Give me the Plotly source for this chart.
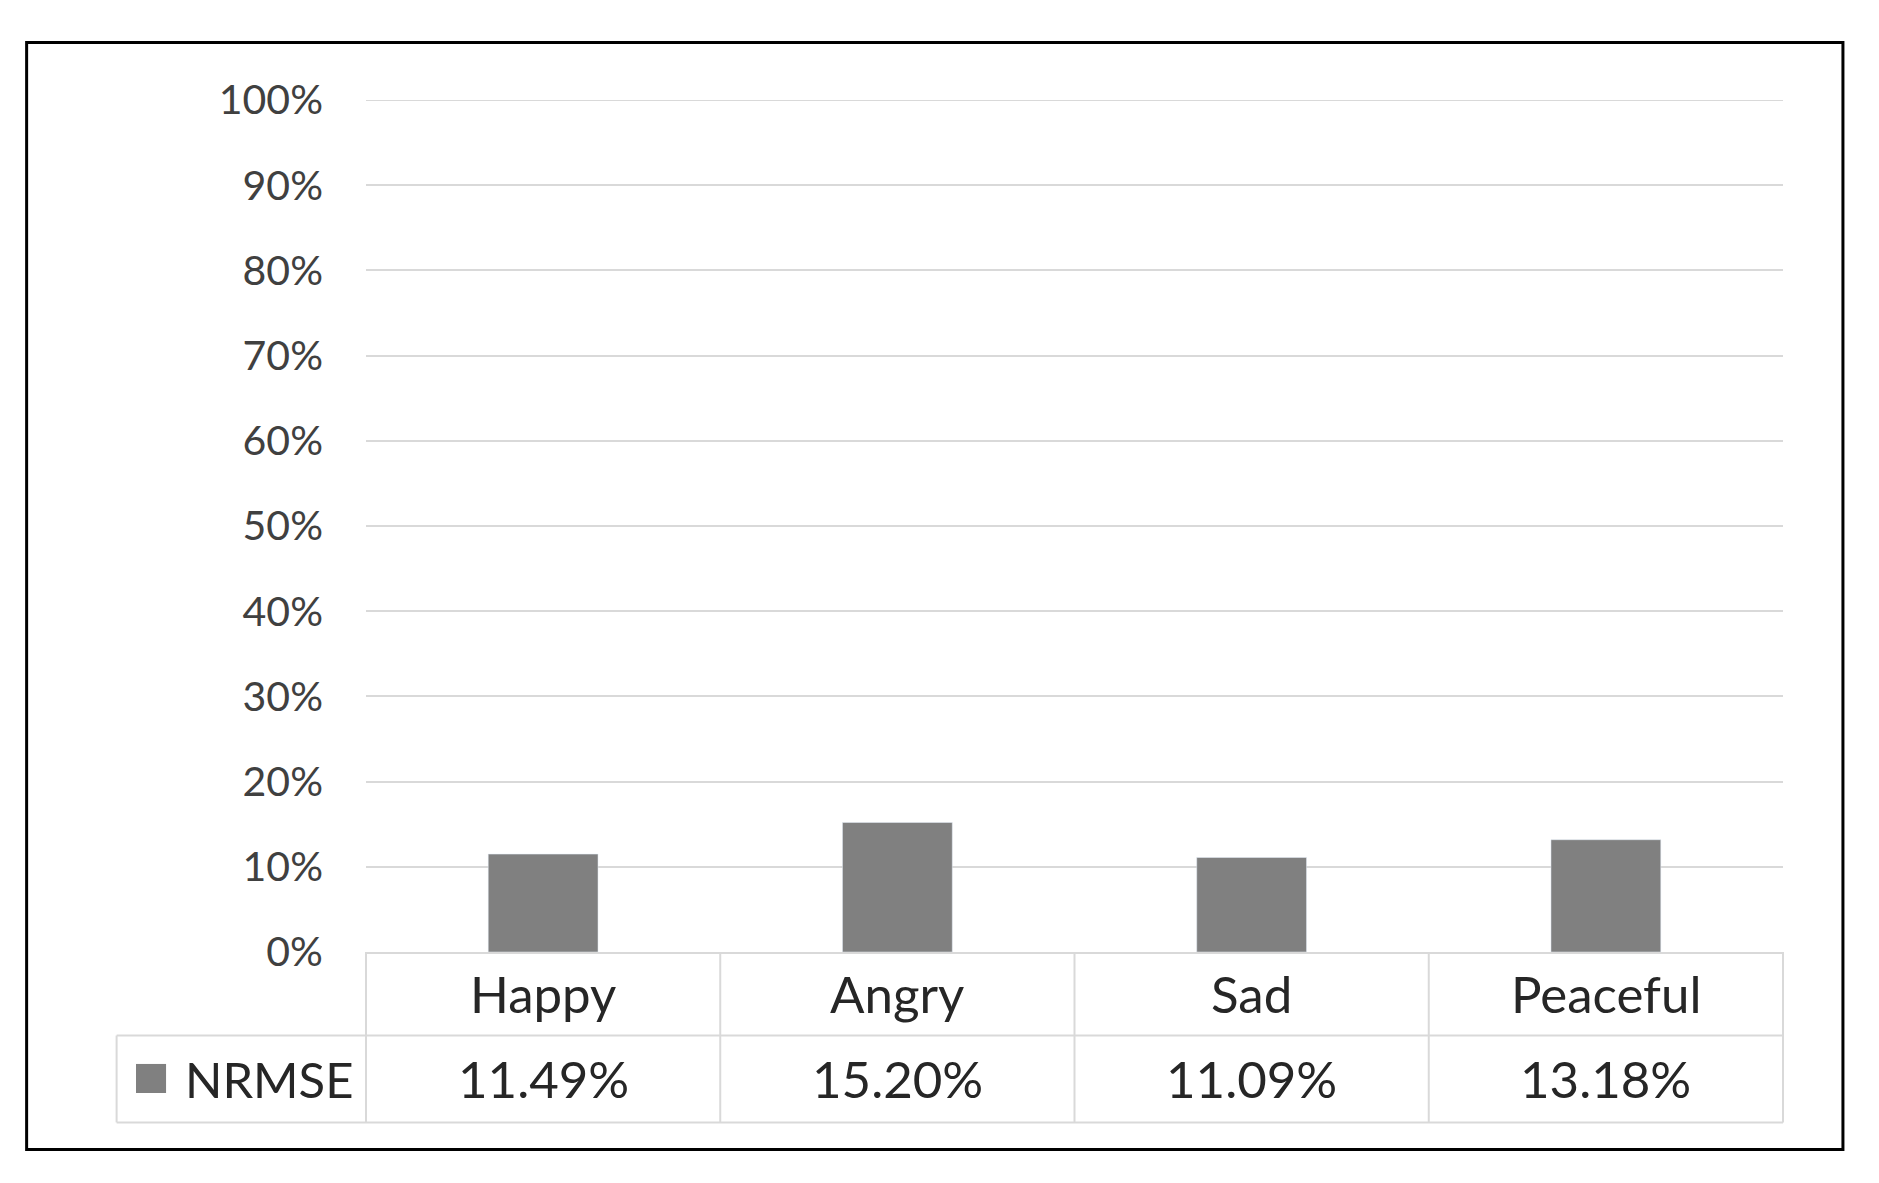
import plotly.graph_objects as go

categories = ["Happy", "Angry", "Sad", "Peaceful"]
nrmse = [0.1149, 0.1520, 0.1109, 0.1318]
series_name = "NRMSE"
y_ticks = [i / 10 for i in range(11)]

# page has an 8px body margin, so the figure origin sits at (8, 8)
W, H = 1863, 1167
ML, MR, MT, MB = 358, 88, 92, 223
FONT = "Lato"
GRID = "#d9d9d9"
BAR = "#808080"

fig = go.Figure()
fig.add_trace(go.Bar(x=categories, y=nrmse, marker_color=BAR, width=0.31,
                     showlegend=False, name=series_name))

# table rows (paper coords relative to plot area)
row1_bot = -0.098
row2_bot = -0.200
leg_left = -0.176

shapes = []
line = dict(color=GRID, width=2)
for i in range(len(categories) + 1):
    xd = i / len(categories)
    shapes.append(dict(type="line", xref="x domain", yref="paper", x0=xd, x1=xd,
                       y0=0, y1=row2_bot, line=line))
shapes.append(dict(type="line", xref="paper", yref="paper", x0=leg_left, x1=1,
                   y0=row1_bot, y1=row1_bot, line=line))
shapes.append(dict(type="line", xref="paper", yref="paper", x0=leg_left, x1=1,
                   y0=row2_bot, y1=row2_bot, line=line))
shapes.append(dict(type="line", xref="paper", yref="paper", x0=leg_left, x1=leg_left,
                   y0=row1_bot, y1=row2_bot, line=line))
# top gridline (100%)
shapes.append(dict(type="line", xref="paper", yref="y", x0=0, x1=1, y0=1, y1=1, line=line,
                   layer="below"))
# legend marker
shapes.append(dict(type="rect", xref="paper", yref="paper", x0=-0.1623, x1=-0.1411,
                   y0=-0.1655, y1=-0.1314, fillcolor=BAR, line=dict(width=0)))
# outer frame
shapes.append(dict(type="rect", xref="paper", yref="paper", x0=-0.2395, x1=1.0423,
                   y0=-0.2318, y1=1.0675, line=dict(color="black", width=3)))

annotations = []
for c, v in zip(categories, nrmse):
    annotations.append(dict(x=c, xref="x", y=row1_bot / 2, yref="paper", text=c,
                            showarrow=False, font=dict(family=FONT, size=51, color="#262626"),
                            yanchor="middle"))
    annotations.append(dict(x=c, xref="x", y=(row1_bot + row2_bot) / 2, yref="paper",
                            text=f"{v * 100:.2f}%", showarrow=False,
                            font=dict(family=FONT, size=51, color="#262626"),
                            yanchor="middle"))
annotations.append(dict(x=-0.1294, xref="paper", y=(row1_bot + row2_bot) / 2, yref="paper",
                        text=series_name, showarrow=False, xanchor="left", yanchor="middle",
                        font=dict(family=FONT, size=49, color="#262626")))

fig.update_layout(
    width=W, height=H,
    margin=dict(l=ML, r=MR, t=MT, b=MB),
    paper_bgcolor="white", plot_bgcolor="white",
    bargap=0.69,
    shapes=shapes, annotations=annotations,
    xaxis=dict(showticklabels=False, showgrid=False, showline=True, linecolor=GRID,
               linewidth=2, zeroline=False, ticks=""),
    yaxis=dict(range=[0, 1], tickvals=y_ticks, tickformat=".0%", showgrid=True,
               gridcolor=GRID, gridwidth=2, zeroline=False, showline=False,
               ticklabelstandoff=42,
               tickfont=dict(family=FONT, size=41, color="#404040")),
)

fig.write_html("out.html")
